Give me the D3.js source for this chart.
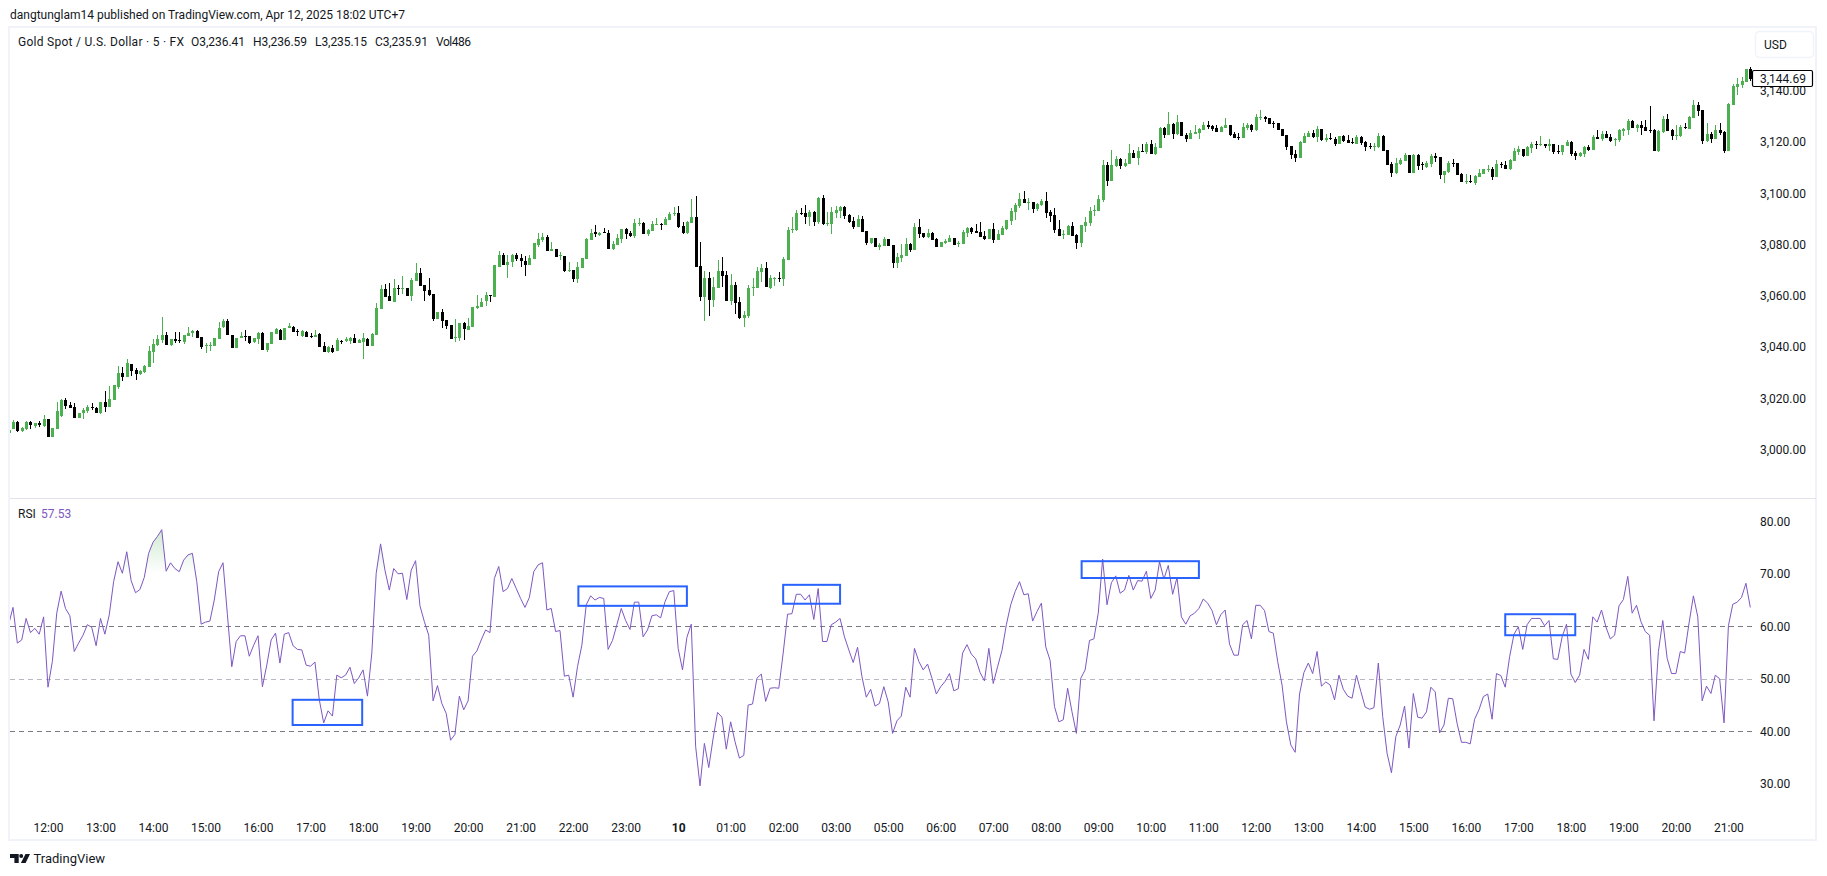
<!DOCTYPE html>
<html>
<head>
<meta charset="utf-8">
<script src="https://cdn.jsdelivr.net/npm/d3@7"></script>
<style>
html,body{margin:0;padding:0;background:#fff;overflow:hidden}
svg{display:block}
text{font-family:Roboto,"Liberation Sans",sans-serif;font-size:12px;fill:#131722}
</style>
</head>
<body>
<svg id="chart" width="1827" height="876"></svg>
<script>
const opens=[
3006.4,3008.1,3010.9,3007.3,3007.9,3010.8,3009.2,3010.3,3009.2,3011.8,
3005.1,3008.2,3013.3,3019.2,3017.4,3016.5,3012.5,3014.2,3015.0,3016.8,
3016.3,3014.2,3018.5,3016.6,3019.4,3024.6,3029.8,3028.2,3033.5,3031.1,
3029.5,3030.2,3032.4,3038.1,3040.8,3042.8,3044.6,3041.0,3043.0,3042.8,
3042.0,3044.5,3045.4,3046.3,3043.8,3040.7,3040.6,3040.6,3043.2,3047.7,
3050.3,3044.7,3039.8,3043.4,3044.5,3044.3,3042.1,3043.2,3045.6,3038.9,
3041.2,3045.1,3046.8,3042.8,3047.3,3048.0,3046.4,3044.3,3046.0,3044.3,
3043.9,3045.0,3040.4,3038.0,3039.6,3038.6,3042.5,3042.4,3042.5,3043.5,
3041.7,3042.1,3043.2,3040.4,3044.7,3055.0,3062.7,3059.9,3057.7,3063.1,
3062.5,3062.9,3059.9,3065.9,3068.8,3064.2,3062.3,3060.7,3051.0,3053.8,
3050.6,3048.6,3043.4,3043.4,3049.5,3046.7,3048.0,3055.4,3055.8,3057.9,
3060.3,3059.7,3071.4,3076.1,3072.0,3073.3,3076.1,3074.6,3073.7,3072.0,
3074.4,3079.8,3081.8,3082.8,3077.5,3078.4,3075.4,3075.7,3069.6,3069.9,
3066.4,3070.7,3074.4,3081.8,3084.9,3083.9,3084.8,3084.4,3078.1,3079.8,
3082.2,3086.1,3084.5,3083.3,3088.0,3088.4,3084.1,3085.3,3087.8,3088.1,
3087.6,3089.6,3092.0,3092.3,3087.2,3084.4,3088.5,3090.7,3071.6,3059.7,
3067.0,3058.4,3063.1,3069.7,3068.1,3058.1,3064.2,3057.6,3051.5,3052.3,
3063.1,3063.1,3069.3,3070.9,3063.1,3066.7,3067.0,3066.6,3074.0,3085.7,
3085.5,3092.3,3092.3,3090.7,3092.7,3088.8,3098.2,3088.0,3088.0,3092.3,
3093.1,3094.6,3091.5,3089.2,3086.7,3090.0,3085.3,3080.6,3082.6,3079.0,
3079.4,3082.2,3079.8,3072.8,3074.8,3075.5,3080.2,3077.9,3086.8,3084.5,
3082.9,3084.5,3082.2,3079.0,3080.6,3081.0,3082.6,3080.2,3080.2,3084.5,
3086.5,3085.3,3084.9,3083.3,3082.2,3086.1,3081.8,3083.7,3086.1,3089.2,
3092.7,3095.0,3097.8,3096.2,3096.6,3093.9,3095.4,3097.0,3092.7,3091.5,
3086.1,3083.7,3083.7,3087.2,3083.7,3080.6,3087.2,3088.4,3093.1,3093.1,
3097.4,3111.0,3104.8,3110.6,3113.4,3110.6,3111.4,3115.7,3113.8,3116.5,
3116.1,3119.2,3115.3,3117.7,3125.5,3122.7,3127.0,3123.1,3127.8,3122.7,
3121.2,3123.1,3123.5,3124.7,3126.6,3126.2,3125.5,3123.9,3125.5,3126.6,
3123.1,3121.9,3121.6,3125.5,3126.6,3124.7,3129.4,3129.7,3129.4,3127.4,
3127.4,3125.1,3122.7,3118.4,3115.3,3113.8,3119.6,3121.9,3123.5,3121.9,
3125.1,3120.8,3121.6,3121.2,3119.2,3122.3,3120.8,3120.0,3119.2,3121.9,
3120.0,3118.4,3118.0,3118.0,3122.3,3116.9,3111.4,3107.9,3111.4,3112.6,
3114.9,3107.9,3114.9,3111.4,3110.2,3111.4,3114.5,3114.1,3107.1,3108.3,
3111.8,3111.8,3107.5,3104.4,3104.8,3104.0,3106.3,3107.5,3109.1,3109.5,
3106.3,3111.4,3111.0,3109.5,3112.6,3116.1,3117.3,3114.5,3117.7,3119.2,
3118.8,3119.2,3118.4,3119.2,3116.5,3116.1,3118.4,3120.0,3115.7,3114.5,
3115.3,3118.0,3116.9,3121.9,3121.2,3123.1,3121.9,3120.8,3120.8,3124.3,
3124.7,3128.2,3125.5,3126.6,3125.8,3124.7,3124.7,3116.5,3123.9,3129.0,
3124.7,3122.3,3122.3,3125.8,3125.1,3129.4,3134.4,3132.5,3120.4,3123.1,
3121.2,3124.7,3123.9,3116.5,3134.4,3141.4,3142.2,3143.4,3148.5];
const closes=[
3007.7,3010.9,3007.3,3008.5,3010.9,3009.5,3010.3,3009.8,3011.8,3005.1,
3008.3,3015.1,3019.4,3017.0,3016.4,3012.5,3014.2,3015.5,3016.8,3016.4,
3014.4,3018.5,3016.5,3019.8,3025.4,3029.8,3028.5,3033.7,3030.7,3029.5,
3030.6,3032.6,3038.5,3041.1,3043.0,3044.6,3041.0,3043.0,3042.4,3042.4,
3044.6,3045.5,3046.3,3043.7,3039.9,3041.0,3040.8,3043.4,3047.3,3050.3,
3044.7,3039.8,3043.4,3044.5,3044.1,3041.7,3043.5,3045.4,3038.9,3041.7,
3045.8,3047.1,3042.8,3047.5,3048.1,3046.0,3045.9,3046.3,3043.9,3043.9,
3044.6,3040.0,3038.2,3040.0,3038.2,3042.8,3042.2,3043.3,3043.5,3041.7,
3042.8,3043.4,3040.4,3045.1,3055.3,3062.7,3059.7,3058.0,3062.9,3062.5,
3062.9,3059.9,3066.2,3068.8,3064.0,3062.0,3060.3,3051.0,3053.8,3050.3,
3048.2,3043.2,3043.8,3049.5,3046.9,3048.2,3055.8,3056.2,3057.7,3060.3,
3060.1,3072.0,3075.9,3072.0,3073.3,3075.9,3074.2,3073.6,3072.0,3074.6,
3080.5,3082.2,3082.8,3077.6,3078.1,3075.3,3075.9,3069.7,3069.9,3066.4,
3071.1,3074.9,3082.3,3084.6,3084.0,3084.6,3084.5,3078.3,3080.2,3082.6,
3086.1,3084.1,3083.3,3088.4,3088.4,3084.1,3085.8,3088.0,3088.0,3087.8,
3090.0,3091.9,3092.3,3086.8,3084.5,3088.9,3090.7,3071.4,3059.7,3067.0,
3058.4,3063.4,3069.7,3067.7,3058.1,3064.2,3057.3,3051.2,3052.5,3063.1,
3063.4,3069.7,3070.9,3063.4,3067.0,3067.0,3066.7,3074.4,3085.7,3086.1,
3092.3,3091.9,3090.7,3092.7,3088.8,3098.2,3088.0,3088.4,3092.7,3093.5,
3094.6,3091.1,3088.8,3086.8,3090.0,3084.9,3080.6,3082.6,3079.0,3079.8,
3082.2,3079.4,3072.8,3075.1,3075.9,3080.2,3077.9,3086.8,3084.1,3082.9,
3084.5,3081.8,3079.0,3081.0,3081.4,3082.6,3079.8,3080.6,3084.9,3086.5,
3084.9,3084.5,3082.9,3082.2,3086.1,3081.8,3084.1,3086.5,3089.6,3093.1,
3095.4,3097.8,3096.2,3096.6,3093.9,3095.8,3097.0,3092.3,3091.1,3085.7,
3083.3,3084.1,3087.2,3083.3,3080.6,3087.6,3088.8,3093.1,3093.5,3097.8,
3111.0,3104.8,3111.0,3113.4,3110.6,3111.8,3115.7,3113.8,3116.5,3116.2,
3119.2,3115.3,3118.0,3125.5,3122.7,3127.0,3123.1,3127.8,3122.3,3121.2,
3123.5,3123.9,3125.1,3126.6,3125.8,3125.1,3123.9,3125.8,3126.6,3122.7,
3121.6,3121.6,3125.8,3126.6,3124.7,3129.7,3129.7,3129.0,3127.0,3127.0,
3124.7,3122.3,3118.0,3114.9,3113.8,3120.0,3122.3,3123.5,3121.9,3125.1,
3120.8,3121.6,3121.2,3119.2,3122.3,3120.4,3119.6,3119.6,3121.9,3119.6,
3118.0,3118.0,3118.4,3122.3,3116.5,3111.0,3107.9,3111.8,3113.0,3114.9,
3107.9,3114.9,3110.6,3111.0,3111.8,3114.5,3113.8,3107.1,3108.7,3111.8,
3111.4,3107.1,3104.4,3104.8,3104.4,3106.7,3107.9,3109.5,3109.5,3106.3,
3111.4,3111.0,3109.5,3113.0,3116.5,3117.3,3114.5,3118.0,3119.2,3118.8,
3119.2,3118.4,3119.2,3116.1,3116.1,3118.8,3120.0,3115.3,3114.5,3115.7,
3118.0,3116.9,3121.9,3121.2,3123.1,3121.6,3120.4,3121.2,3124.7,3125.1,
3128.2,3125.5,3126.6,3125.5,3124.3,3124.3,3116.5,3124.3,3129.0,3124.3,
3122.3,3122.7,3125.8,3125.5,3129.7,3134.4,3132.1,3120.4,3123.1,3121.2,
3124.7,3123.5,3116.5,3134.8,3141.8,3142.6,3143.8,3148.5,3144.7];
const highs=[
3008.3,3011.6,3011.3,3008.7,3011.3,3011.2,3010.3,3011.3,3013.5,3011.8,
3008.3,3018.7,3019.6,3020.2,3018.7,3018.2,3014.2,3016.1,3017.4,3018.1,
3016.8,3018.5,3022.9,3024.8,3025.4,3032.6,3032.4,3035.2,3033.5,3032.0,
3031.1,3033.0,3040.6,3043.0,3044.7,3051.7,3046.0,3043.3,3046.0,3045.8,
3044.7,3048.0,3046.7,3046.7,3043.8,3041.5,3042.1,3043.4,3049.9,3050.8,
3050.8,3044.7,3043.4,3045.8,3046.7,3044.5,3043.7,3046.0,3046.0,3041.7,
3046.0,3047.6,3047.0,3047.5,3049.5,3048.1,3046.9,3046.7,3046.3,3045.4,
3046.7,3045.4,3042.1,3040.5,3040.8,3043.4,3042.8,3043.8,3044.1,3045.0,
3043.0,3045.4,3043.4,3045.6,3057.2,3064.2,3064.5,3064.9,3066.4,3064.2,
3067.7,3063.1,3066.8,3072.7,3070.9,3064.2,3066.8,3060.7,3053.8,3054.9,
3050.6,3048.6,3050.8,3049.5,3049.9,3051.2,3055.8,3060.3,3059.0,3061.4,
3060.3,3072.0,3077.6,3076.6,3075.9,3076.3,3076.6,3076.3,3075.5,3075.9,
3080.7,3084.4,3084.4,3083.7,3081.1,3078.4,3077.2,3075.7,3073.3,3069.9,
3073.3,3074.9,3082.6,3086.1,3087.6,3084.8,3086.3,3085.7,3081.3,3084.1,
3086.1,3086.5,3085.3,3090.0,3090.2,3088.8,3086.2,3089.2,3090.2,3088.5,
3090.6,3092.7,3094.6,3095.0,3088.8,3089.3,3097.8,3098.9,3081.0,3069.7,
3069.3,3067.3,3074.0,3075.1,3069.7,3068.5,3065.4,3059.5,3054.1,3064.2,
3067.0,3071.2,3072.4,3073.2,3068.1,3067.3,3069.3,3075.1,3086.8,3090.7,
3093.5,3094.3,3095.4,3093.5,3093.1,3098.5,3099.3,3092.7,3094.6,3095.0,
3095.0,3095.0,3091.9,3090.7,3091.5,3091.1,3085.3,3082.6,3082.6,3080.6,
3082.9,3082.2,3079.8,3076.7,3080.2,3082.6,3080.6,3088.4,3090.0,3084.5,
3086.1,3084.9,3082.6,3081.0,3082.0,3083.7,3082.6,3081.4,3085.7,3086.8,
3086.8,3088.0,3088.8,3085.3,3086.1,3088.4,3085.7,3087.2,3089.6,3094.3,
3096.2,3100.1,3100.9,3098.2,3096.6,3096.2,3097.8,3100.5,3093.5,3094.3,
3089.6,3085.7,3087.6,3088.8,3084.1,3087.6,3090.7,3094.6,3095.4,3099.3,
3113.0,3112.1,3116.9,3114.5,3113.8,3113.4,3119.2,3116.9,3118.0,3119.2,
3120.0,3120.8,3119.6,3125.8,3125.8,3131.7,3127.4,3130.5,3127.8,3123.5,
3124.7,3126.6,3125.5,3127.8,3128.2,3126.6,3126.6,3126.2,3129.4,3126.6,
3123.9,3123.5,3127.4,3127.4,3127.0,3130.9,3132.5,3130.1,3129.4,3128.2,
3127.4,3125.1,3122.7,3118.4,3116.9,3120.4,3123.5,3124.3,3124.7,3126.2,
3125.1,3123.1,3123.5,3121.9,3122.3,3122.7,3122.7,3121.6,3122.7,3122.3,
3120.4,3119.6,3119.6,3123.5,3122.7,3116.9,3112.2,3113.8,3113.8,3115.7,
3114.9,3115.3,3115.3,3112.2,3112.6,3115.3,3115.7,3114.1,3108.7,3112.6,
3113.4,3111.8,3107.9,3107.5,3107.1,3107.1,3109.5,3109.5,3111.0,3110.2,
3113.0,3112.2,3112.6,3113.4,3117.7,3118.4,3117.3,3118.4,3120.0,3120.4,
3122.3,3119.2,3121.2,3119.2,3118.8,3118.8,3120.8,3120.4,3116.5,3116.1,
3118.4,3118.8,3122.7,3124.7,3124.3,3124.3,3123.1,3121.6,3125.1,3125.5,
3129.0,3128.6,3127.0,3128.2,3128.6,3134.0,3125.1,3124.7,3130.1,3130.9,
3125.1,3126.6,3126.6,3127.4,3130.1,3136.4,3135.6,3132.5,3127.4,3123.9,
3126.6,3127.4,3124.3,3135.2,3142.6,3144.9,3145.3,3148.5,3149.2];
const lows=[
3005.7,3007.9,3006.9,3007.0,3007.7,3008.2,3008.3,3008.7,3009.0,3005.1,
3005.1,3008.2,3012.9,3015.7,3016.1,3012.5,3012.5,3011.8,3014.2,3015.5,
3014.2,3014.0,3014.8,3016.6,3019.4,3023.7,3026.8,3028.2,3028.7,3027.2,
3029.0,3030.0,3032.4,3033.9,3040.6,3041.5,3041.0,3040.6,3041.7,3041.5,
3041.1,3044.5,3043.8,3043.7,3039.1,3037.8,3038.6,3040.6,3043.2,3047.3,
3044.7,3039.8,3039.8,3043.4,3042.5,3041.2,3041.8,3041.2,3038.9,3038.2,
3041.2,3045.1,3042.8,3042.8,3047.3,3046.0,3044.5,3043.9,3043.9,3043.5,
3043.8,3040.0,3038.2,3037.7,3037.7,3038.6,3041.1,3042.0,3041.1,3041.7,
3041.7,3035.5,3040.4,3040.4,3044.7,3055.0,3059.7,3058.0,3057.7,3060.3,
3060.7,3059.9,3058.0,3065.9,3064.0,3058.1,3060.1,3050.3,3051.0,3047.3,
3046.9,3043.2,3042.1,3042.5,3042.8,3046.7,3048.0,3055.0,3055.8,3056.0,
3057.6,3059.7,3071.4,3072.0,3067.1,3071.4,3073.7,3071.4,3067.7,3072.0,
3074.4,3079.2,3081.1,3077.6,3077.5,3075.3,3074.0,3069.3,3069.4,3065.5,
3065.1,3070.7,3074.4,3081.8,3082.8,3083.5,3084.4,3078.3,3077.9,3079.8,
3080.5,3082.2,3082.8,3082.7,3087.2,3084.1,3083.3,3085.3,3087.8,3085.7,
3087.6,3089.6,3091.1,3086.3,3084.1,3084.1,3088.3,3071.4,3058.1,3050.2,
3052.1,3055.8,3063.1,3063.4,3058.1,3056.4,3052.9,3051.0,3047.8,3051.4,
3059.9,3063.1,3065.4,3063.4,3062.7,3063.8,3065.4,3063.8,3074.0,3084.4,
3085.2,3091.5,3088.0,3087.2,3087.2,3088.0,3087.6,3087.2,3084.1,3090.4,
3090.4,3090.0,3088.4,3086.1,3086.7,3084.9,3079.8,3080.2,3079.0,3077.9,
3079.4,3079.4,3070.9,3070.9,3073.2,3075.5,3077.1,3077.9,3082.6,3082.6,
3082.6,3081.8,3079.0,3079.0,3080.2,3081.0,3079.8,3079.0,3080.2,3082.9,
3084.1,3084.5,3082.9,3081.8,3082.2,3080.6,3081.8,3083.7,3085.7,3087.6,
3089.6,3094.3,3096.2,3093.5,3092.3,3093.1,3095.0,3090.4,3088.8,3084.5,
3083.3,3082.2,3083.7,3083.3,3078.3,3079.0,3084.9,3087.2,3091.1,3093.1,
3096.6,3102.9,3104.8,3110.2,3109.5,3110.2,3111.4,3113.8,3111.0,3116.1,
3115.3,3115.3,3114.9,3117.7,3121.6,3122.7,3121.2,3122.7,3122.3,3120.0,
3121.2,3123.1,3121.2,3124.7,3125.1,3124.3,3123.9,3123.9,3125.5,3122.3,
3121.6,3120.8,3121.6,3124.7,3123.9,3124.3,3128.6,3127.8,3127.0,3125.5,
3124.7,3122.3,3116.9,3113.4,3112.2,3113.8,3119.6,3121.9,3121.6,3120.0,
3120.4,3120.0,3120.8,3118.4,3119.2,3120.0,3119.6,3119.2,3119.2,3118.8,
3116.5,3117.3,3116.5,3117.7,3116.5,3111.0,3106.3,3107.5,3111.0,3112.6,
3107.9,3107.9,3109.1,3109.1,3109.9,3110.2,3112.2,3105.6,3104.0,3107.9,
3110.2,3107.1,3104.4,3103.6,3104.0,3103.2,3106.3,3107.5,3108.3,3105.2,
3106.3,3109.9,3109.5,3109.1,3112.6,3114.9,3114.1,3114.5,3115.7,3117.3,
3118.4,3117.7,3116.5,3115.3,3115.3,3114.9,3118.4,3114.5,3113.0,3114.1,
3114.1,3116.5,3116.9,3121.2,3120.4,3121.6,3120.0,3118.4,3120.0,3122.3,
3122.7,3125.5,3123.9,3122.7,3124.3,3123.5,3116.5,3116.1,3123.5,3124.3,
3120.8,3120.8,3121.9,3125.1,3125.1,3129.4,3130.1,3119.2,3120.0,3119.6,
3121.2,3122.7,3115.7,3116.5,3134.4,3138.3,3141.0,3143.4,3143.8];
const rsiValues=[
60.3,63.6,56.8,57.4,61.5,58.8,59.6,58.5,61.8,48.4,
53.3,62.5,66.7,63.4,62.0,55.2,56.8,58.3,60.3,59.8,
56.3,61.5,58.5,62.2,68.5,72.3,70.1,74.2,68.7,66.4,
67.0,69.3,73.9,76.0,77.1,78.4,70.5,72.1,71.0,70.4,
72.6,73.6,73.9,68.5,60.4,60.8,61.0,65.0,70.4,72.1,
62.2,52.3,57.1,58.2,58.2,54.3,56.4,58.2,48.5,52.6,
57.4,58.7,53.0,58.5,58.8,56.3,55.6,55.5,52.6,52.4,
53.2,46.0,41.6,43.9,42.9,50.7,50.2,50.7,52.2,49.1,
50.2,51.7,46.7,54.9,70.1,75.7,70.7,66.9,71.0,70.0,
70.1,65.1,70.7,72.5,63.9,60.9,58.3,45.8,48.7,45.3,
43.4,38.3,39.4,46.7,44.1,45.8,54.3,55.3,57.4,59.3,
58.8,69.1,71.4,66.6,67.2,69.1,67.2,65.3,63.6,65.5,
70.4,71.7,72.1,63.1,63.4,59.0,59.2,50.5,50.7,46.5,
52.3,56.4,64.1,65.8,65.0,65.5,65.3,55.6,57.3,60.3,
63.4,61.1,59.4,64.6,64.6,58.0,59.3,62.0,62.2,61.6,
64.7,66.6,66.8,55.8,51.7,57.9,60.4,37.1,29.6,37.7,
33.1,38.7,43.6,42.7,36.6,41.8,38.0,34.9,35.4,45.0,
45.2,50.1,50.9,45.7,48.2,48.3,48.2,54.9,62.3,62.4,
66.1,66.1,65.0,66.0,61.3,67.2,57.1,57.1,60.3,60.8,
61.5,58.0,55.5,53.1,56.0,50.4,46.5,48.0,44.8,45.3,
48.5,45.6,39.6,42.0,42.9,48.4,46.5,55.8,53.3,51.7,
52.8,50.1,47.1,48.5,49.5,51.0,47.7,48.1,54.9,56.5,
54.7,53.8,51.2,49.6,55.8,49.1,52.3,55.4,60.3,64.1,
66.6,68.5,66.0,66.2,61.0,62.8,64.4,56.1,53.5,44.7,
41.8,42.2,48.2,43.7,39.6,50.1,51.7,57.3,57.6,62.5,
72.8,64.1,68.3,69.6,66.3,66.9,69.7,66.9,68.7,68.6,
70.5,65.3,66.9,72.3,69.0,71.6,66.1,69.3,61.8,60.4,
62.0,62.5,63.4,65.2,64.4,63.0,60.3,62.2,63.1,56.6,
54.5,54.5,60.3,61.1,57.6,64.0,64.0,63.0,59.0,58.7,
53.3,48.8,41.8,37.4,36.0,47.1,51.2,53.0,51.0,55.2,
48.6,49.4,48.8,46.0,50.7,48.0,46.7,46.3,50.7,47.6,
44.6,44.2,44.5,53.0,42.8,35.8,32.1,39.0,41.2,44.8,
36.8,47.2,42.7,42.5,43.7,48.4,47.5,39.7,41.2,46.3,
46.2,41.5,37.9,37.9,37.6,42.3,44.1,46.6,47.1,42.3,
51.0,50.6,48.4,54.2,58.5,59.9,55.6,60.3,61.5,61.5,
61.5,60.1,61.1,53.8,53.7,58.0,60.4,50.9,49.3,50.7,
55.6,53.7,61.8,60.8,63.1,59.9,57.6,58.3,63.9,65.1,
69.5,62.5,64.0,60.9,59.0,58.3,42.0,55.2,61.1,53.9,
51.0,51.0,55.2,54.9,60.6,65.8,61.8,45.8,48.6,47.2,
50.7,50.0,41.6,60.1,64.2,64.6,65.5,68.2,63.6];
const timeLabels=["12:00","13:00","14:00","15:00","16:00","17:00","18:00","19:00","20:00","21:00","22:00","23:00","10","01:00","02:00","03:00","05:00","06:00","07:00","08:00","09:00","10:00","11:00","12:00","13:00","14:00","15:00","16:00","17:00","18:00","19:00","20:00","21:00"];
const priceTicks=[3000,3020,3040,3060,3080,3100,3120,3140];
const rsiTicks=[30,40,50,60,70,80];
const rsiLevels=[60,50,40];
// marked boxes: first bar, last bar, top RSI, bottom RSI
const boxStart=[64.9,130.2,177.0,245.2,342.0];
const boxEnd=[80.8,155.0,190.0,272.0,358.0];
const boxTop=[46.0,67.6,67.9,72.4,62.3];
const boxBottom=[41.2,63.9,64.3,69.2,58.3];
const lastPrice=3144.69;

const svg=d3.select("#chart");
const x=d3.scaleLinear().domain([0,398]).range([8.6,1750.3]);
const yP=d3.scaleLinear().domain([3000,3140]).range([449.7,90.7]);
const yR=d3.scaleLinear().domain([30,80]).range([783.8,521.3]);
const idx=d3.range(opens.length);
const defs=svg.append("defs");
defs.append("clipPath").attr("id","pane").append("rect").attr("x",10).attr("y",28).attr("width",1742).attr("height",812);
const grad=defs.append("linearGradient").attr("id","ob").attr("gradientUnits","userSpaceOnUse").attr("x1",0).attr("x2",0).attr("y1",yR(79)).attr("y2",yR(70));
grad.append("stop").attr("offset",0).attr("stop-color","#4caf50").attr("stop-opacity",.28);
grad.append("stop").attr("offset",1).attr("stop-color","#4caf50").attr("stop-opacity",0);

// frame
svg.append("rect").attr("x",9).attr("y",27).attr("width",1807).attr("height",813).attr("fill","none").attr("stroke","#f0f3fa").attr("stroke-width",2);
svg.append("line").attr("x1",10).attr("x2",1816).attr("y1",498.5).attr("y2",498.5).attr("stroke","#e0e3eb");

// header
svg.append("text").attr("x",10).attr("y",19).text("dangtunglam14 published on TradingView.com, Apr 12, 2025 18:02 UTC+7");
const legend=[[18,"Gold Spot / U.S. Dollar · 5 · FX",166],[191,"O3,236.41",54],[253,"H3,236.59",54],[315,"L3,235.15",52],[375,"C3,235.91",53],[436,"Vol486",35]];
svg.append("g").selectAll("text").data(legend).join("text").attr("x",d=>d[0]).attr("y",46).attr("textLength",d=>d[2]).attr("lengthAdjust","spacing").text(d=>d[1]);

// candles
const pane=svg.append("g").attr("clip-path","url(#pane)").attr("shape-rendering","crispEdges");
const color=i=>closes[i]>=opens[i]?"#4caf50":"#000000";
const px=i=>Math.round(x(i));
pane.append("g").selectAll("rect").data(idx).join("rect")
 .attr("x",px).attr("width",1)
 .attr("y",i=>Math.round(yP(highs[i])))
 .attr("height",i=>Math.max(1,Math.round(yP(lows[i]))-Math.round(yP(highs[i]))))
 .attr("fill",color);
pane.append("g").selectAll("rect").data(idx).join("rect")
 .attr("x",i=>px(i)-1).attr("width",3)
 .attr("y",i=>Math.round(yP(Math.max(opens[i],closes[i]))))
 .attr("height",i=>Math.max(1,Math.round(yP(Math.min(opens[i],closes[i])))-Math.round(yP(Math.max(opens[i],closes[i])))))
 .attr("fill",color);

// RSI levels
svg.append("g").selectAll("line").data(rsiLevels).join("line")
 .attr("x1",10).attr("x2",1752).attr("y1",d=>Math.round(yR(d))+.5).attr("y2",d=>Math.round(yR(d))+.5)
 .attr("stroke",d=>d===50?"#b8bac2":"#787b86").attr("stroke-dasharray","5 4");

// RSI
const rsiG=svg.append("g").attr("clip-path","url(#pane)");
rsiG.append("path").datum(rsiValues)
 .attr("d",d3.area().x((d,i)=>x(i)).y0(yR(70)).y1(d=>yR(Math.max(d,70))))
 .attr("fill","url(#ob)");
rsiG.append("path").datum(rsiValues)
 .attr("d",d3.line().x((d,i)=>x(i)).y(d=>yR(d)))
 .attr("fill","none").attr("stroke","#7e57c2").attr("stroke-width",1);

// boxes
svg.append("g").selectAll("rect").data(boxStart).join("rect")
 .attr("x",(d,i)=>x(d)).attr("width",(d,i)=>x(boxEnd[i])-x(d))
 .attr("y",(d,i)=>yR(boxTop[i])).attr("height",(d,i)=>yR(boxBottom[i])-yR(boxTop[i]))
 .attr("fill","none").attr("stroke","#2962ff").attr("stroke-width",2);

svg.append("text").attr("x",18).attr("y",518).text("RSI");
svg.append("text").attr("x",41).attr("y",518).style("fill","#7e57c2").text("57.53");

// axes
const axisStyle=g=>{g.select(".domain").remove();g.selectAll("line").remove();g.selectAll("text").style("font-family","Roboto").style("font-size","12px").style("fill","#131722");};
const tickIdx=timeLabels.map((d,i)=>9+12*i);
svg.append("g").attr("transform","translate(0,823)")
 .call(d3.axisBottom(x).tickValues(tickIdx).tickSize(0).tickPadding(0).tickFormat((d,i)=>timeLabels[i]))
 .call(axisStyle)
 .call(g=>g.selectAll("text").filter(function(){return this.textContent==="10";}).style("font-weight","700"));
svg.append("g").attr("transform","translate(1760,0)")
 .call(d3.axisRight(yP).tickValues(priceTicks).tickSize(0).tickPadding(0).tickFormat(d3.format(",.2f")))
 .call(axisStyle);
svg.append("g").attr("transform","translate(1760,0)")
 .call(d3.axisRight(yR).tickValues(rsiTicks).tickSize(0).tickPadding(0).tickFormat(d3.format(".2f")))
 .call(axisStyle);

// last price tag
svg.append("rect").attr("x",1752.5).attr("y",Math.round(yP(lastPrice))-8.5).attr("width",60).attr("height",16).attr("rx",1.5).attr("fill","#fff").attr("stroke","#000").attr("stroke-width",1.2);
svg.append("text").attr("x",1760).attr("y",yP(lastPrice)+4).text(d3.format(",.2f")(lastPrice));

// currency button
svg.append("rect").attr("x",1755.5).attr("y",31.5).attr("width",58).attr("height",26).attr("rx",4).attr("fill","#fff").attr("stroke","#f0f3fa").attr("stroke-width",1.5);
svg.append("text").attr("x",1764).attr("y",49).text("USD");

// footer logo
const logo=svg.append("g").attr("transform","translate(10,854)").attr("fill","#131722");
logo.append("path").attr("d","M0 0H8.7V9H4.4V4H0Z");
logo.append("circle").attr("cx",11.2).attr("cy",2).attr("r",2);
logo.append("path").attr("d","M15.5 0H20L15.6 9H10.9Z");
svg.append("text").attr("x",33.5).attr("y",863).style("font-size","13px").text("TradingView");
</script>
</body>
</html>
